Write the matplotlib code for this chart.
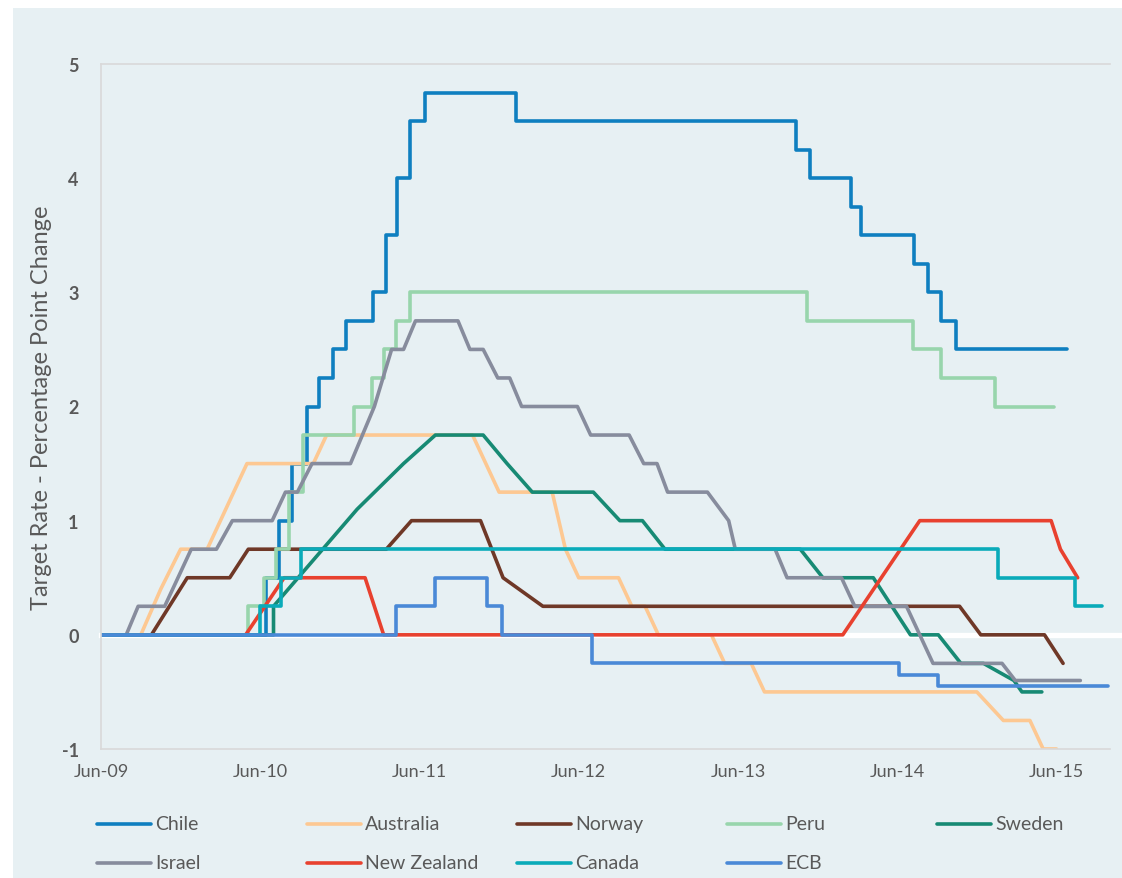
import matplotlib
matplotlib.use("Agg")
import matplotlib.pyplot as plt
from matplotlib.patches import Rectangle
from matplotlib.lines import Line2D

plt.rcParams['font.family'] = ['Lato', 'DejaVu Sans']

# === Data: months since Jun-09, change in target rate (percentage points) ===
tick_months = [0, 12, 24, 36, 48, 60, 72]
tick_labels = ["Jun-09", "Jun-10", "Jun-11", "Jun-12", "Jun-13", "Jun-14", "Jun-15"]

# step series (daily decisions)
chile_m = [0, 12.4, 13.4, 14.4, 15.5, 16.4, 17.5, 18.5, 20.5, 21.5, 22.3, 23.3, 24.4,
           31.3, 52.4, 53.4, 56.5, 57.3, 61.3, 62.3, 63.3, 64.4, 72.8]
chile_v = [0, 0.5, 1.0, 1.5, 2.0, 2.25, 2.5, 2.75, 3.0, 3.5, 4.0, 4.5, 4.75,
           4.5, 4.25, 4.0, 3.75, 3.5, 3.25, 3.0, 2.75, 2.5, 2.5]

peru_m = [0, 11.1, 12.3, 13.2, 14.2, 15.2, 19.1, 20.4, 21.3, 22.2, 23.3, 53.2, 61.2, 63.3, 67.4, 71.8]
peru_v = [0, 0.25, 0.5, 0.75, 1.25, 1.75, 2.0, 2.25, 2.5, 2.75, 3.0, 2.75, 2.5, 2.25, 2.0, 2.0]

canada_m = [0, 12.0, 13.6, 15.1, 67.6, 73.4, 75.4]
canada_v = [0, 0.25, 0.5, 0.75, 0.5, 0.25, 0.25]

ecb_m = [0, 22.2, 25.2, 29.1, 30.2, 37.0, 60.1, 63.1, 75.9]
ecb_v = [0, 0.25, 0.5, 0.25, 0, -0.25, -0.35, -0.45, -0.45]

# monthly series (linear between points)
australia_m = [0, 3, 4.5, 6, 8, 9, 10, 11, 16, 17, 28, 29, 30, 34, 35, 36, 39, 40, 41, 42,
               46, 47, 49, 50, 66, 68, 70, 71, 72]
australia_v = [0, 0, 0.4, 0.75, 0.75, 1.0, 1.25, 1.5, 1.5, 1.75, 1.75, 1.5, 1.25, 1.25, 0.75, 0.5,
               0.5, 0.25, 0.25, 0, 0, -0.25, -0.25, -0.5, -0.5, -0.75, -0.75, -1.0, -1.0]

norway_m = [0, 3.8, 6.5, 9.7, 11.1, 21.5, 23.4, 28.6, 30.3, 33.3, 64.7, 66.3, 71.1, 72.5]
norway_v = [0, 0, 0.5, 0.5, 0.75, 0.75, 1.0, 1.0, 0.5, 0.25, 0.25, 0, 0, -0.25]

sweden_m = [0, 13.0, 13.0, 19.3, 22.8, 25.2, 28.8, 30.6, 32.5, 37.1, 39.1, 40.8, 42.5,
            52.7, 54.4, 58.2, 61.0, 63.1, 64.8, 66.5, 68.8, 69.4, 70.9]
sweden_v = [0, 0, 0.25, 1.1, 1.5, 1.75, 1.75, 1.5, 1.25, 1.25, 1.0, 1.0, 0.75,
            0.75, 0.5, 0.5, 0, 0, -0.25, -0.25, -0.4, -0.5, -0.5]

israel_m = [0, 1.9, 2.8, 4.8, 6.8, 8.7, 9.9, 12.9, 13.9, 14.8, 15.9, 18.8, 20.6, 21.9, 22.8,
            23.7, 26.9, 27.8, 28.8, 29.9, 30.8, 31.7, 35.9, 36.9, 39.8, 40.9, 41.9, 42.7,
            45.7, 47.3, 47.8, 50.8, 51.7, 55.8, 56.8, 60.7, 62.7, 67.9, 68.9, 73.8]
israel_v = [0, 0, 0.25, 0.25, 0.75, 0.75, 1.0, 1.0, 1.25, 1.25, 1.5, 1.5, 2.0, 2.5, 2.5,
            2.75, 2.75, 2.5, 2.5, 2.25, 2.25, 2.0, 2.0, 1.75, 1.75, 1.5, 1.5, 1.25,
            1.25, 1.0, 0.75, 0.75, 0.5, 0.5, 0.25, 0.25, -0.25, -0.25, -0.4, -0.4]

nz_m = [0, 10.9, 13.8, 19.9, 21.3, 55.9, 61.7, 71.6, 72.3, 73.6]
nz_v = [0, 0, 0.5, 0.5, 0, 0, 1.0, 1.0, 0.75, 0.5]

# === Figure ===
W, H = 1122, 879
fig = plt.figure(figsize=(W / 100, H / 100), dpi=100, facecolor="white")
fig.add_artist(Rectangle((13 / W, 0), 1 - 13 / W, 1 - 9 / H, transform=fig.transFigure,
                         facecolor="#e7f0f3", edgecolor="none", zorder=0))

ax = fig.add_axes([101 / W, 1 - 750 / H, 1009 / W, 685 / H])
ax.set_facecolor("none")
ax.set_xlim(0, 1009 / 13.27)
ax.set_ylim(-1, 5)

# white zero line running out to the edge of the figure
ax.axhline(0, xmin=0, xmax=(W - 101) / 1009, color="white", lw=3.8, zorder=1.5, clip_on=False)

style = dict(lw=2.6, solid_joinstyle="round", solid_capstyle="round")
series = [
    ("Chile", chile_m, chile_v, "#0f7fc0", True),
    ("Australia", australia_m, australia_v, "#fdc892", False),
    ("Norway", norway_m, norway_v, "#6f3827", False),
    ("Peru", peru_m, peru_v, "#98d5ac", True),
    ("Sweden", sweden_m, sweden_v, "#178a74", False),
    ("Israel", israel_m, israel_v, "#878c9d", False),
    ("New Zealand", nz_m, nz_v, "#e8412f", False),
    ("Canada", canada_m, canada_v, "#0aabb9", True),
    ("ECB", ecb_m, ecb_v, "#4a89d7", True),
]
for name, m, v, col, is_step in series:
    if is_step:
        ax.step(m, v, where="post", color=col, label=name, **style)
    else:
        ax.plot(m, v, color=col, label=name, **style)

ax.set_xticks(tick_months)
ax.set_xticklabels(tick_labels, fontsize=13, color="#595959")
ax.set_yticks(range(-1, 6))
ax.set_yticklabels([str(i) for i in range(-1, 6)], fontsize=13, fontweight="bold", color="#595959")
ax.tick_params(axis="both", length=0)
ax.tick_params(axis="y", pad=16)
ax.tick_params(axis="x", pad=10)

for s in ["top", "bottom", "left"]:
    ax.spines[s].set_color("#d9d9d9")
    ax.spines[s].set_linewidth(1.2)
ax.spines["right"].set_visible(False)

fig.text(42 / W, 1 - 408 / H, "Target Rate - Percentage Point Change", rotation=90,
         ha="center", va="center", fontsize=17, color="#595959")

# legend laid out on a regular grid like the original
for i, (name, m, v, col, is_step) in enumerate(series):
    row, c = divmod(i, 5)
    x0 = 97 + 210 * c
    y0 = 825 + 39 * row
    fig.add_artist(Line2D([x0 / W, (x0 + 54) / W], [1 - y0 / H, 1 - y0 / H],
                          transform=fig.transFigure, color=col, lw=2.6, solid_capstyle="round"))
    fig.text((x0 + 58) / W, 1 - y0 / H, name, ha="left", va="center", fontsize=14, color="#595959")

fig.savefig("out.png", dpi=100, facecolor="white")
